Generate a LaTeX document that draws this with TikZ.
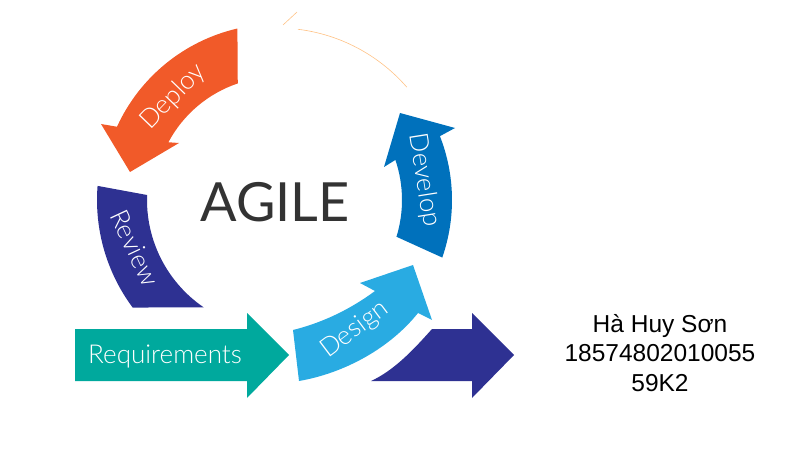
\documentclass[tikz,border=0pt]{standalone}
\usepackage{fontspec}
\setmainfont{Lato}
\newfontfamily\phasefont{Lato Light}
\newfontfamily\namefont{Liberation Sans}
\usetikzlibrary{calc}
\definecolor{deployorange}{HTML}{F15A29}
\definecolor{reviewblue}{HTML}{2E3192}
\definecolor{developblue}{HTML}{0071BC}
\definecolor{designblue}{HTML}{29ABE2}
\definecolor{reqteal}{HTML}{00A99D}
\definecolor{agilegray}{HTML}{333333}
\tikzstyle{phasetext} = [text=white, font=\phasefont\fontsize{26}{30}\selectfont, inner sep=0pt]
\tikzstyle{ghost} = [draw=orange!80, line width=0.6pt, opacity=0.6]
\newcommand{\phase}[3]{
node (#1) [phasetext, rotate=#2] {#3}}

\begin{document}
\begin{tikzpicture}[x=1pt, y=1pt]
	\useasboundingbox (0,0) rectangle (801,448);
	\coordinate (c) at (277,248);

	% Draw the arrows round the circle
	\fill[deployorange] ($(c)+(103:176)$) arc[start angle=103, end angle=155.4, radius=176]
		-- (101,324) -- (130,276) -- (179,305) -- ($(c)+(152:123)$)
		arc[start angle=152, end angle=108.6, radius=123] -- cycle;
	\fill[reviewblue] ($(c)+(175.5:180)$) arc[start angle=175.5, end angle=216.7, radius=180]
		-- ($(c)+(235.6:130)$) arc[start angle=235.6, end angle=177.8, radius=130] -- cycle;
	\fill[developblue] ($(c)+(-19.2:175)$) arc[start angle=-19.2, end angle=21.4, radius=175]
		-- (455,320) -- (400,335) -- (384,281) -- ($(c)+(18.7:125)$)
		arc[start angle=18.7, end angle=-17.1, radius=125] -- cycle;
	\fill[designblue] (293,118) .. controls (325,126) and (352,140) .. (375,157)
		-- (360,165) -- (413,183) -- (432,128) -- (418,135)
		.. controls (390,100) and (345,75) .. (299,67) -- cycle;

	% Draw the straight arrows
	\fill[reqteal] (75,67) -- (247,67) -- (247,50) -- (289,93) -- (247,135) -- (247,119) -- (75,119) -- cycle;
	\fill[reviewblue] (371,67) .. controls (395,78) and (415,100) .. (432,119)
		-- (472,119) -- (472,135) -- (514,93) -- (472,50) -- (472,67) -- cycle;

	% Faint traces at the top
	\draw[ghost] ($(c)+(83:172)$) arc[start angle=83, end angle=41, radius=172];
	\draw[ghost] (283,423) -- (297,436);

	% Draw the labels
	\path (173,351) \phase{deploy}{46}{Deploy};
	\path (135,200) \phase{review}{-65}{Review};
	\path (424,268) \phase{develop}{-81}{Develop};
	\path (355,118) \phase{design}{37}{Design};
	\path (165,91) \phase{requirements}{0}{Requirements};
	\node (agile) [font=\fontsize{54}{60}\selectfont, text=agilegray] at (275,246) {AGILE};
	\node (author) [align=center, font=\namefont\fontsize{24.5}{29.5}\selectfont] at (660,95)
		{Hà Huy Sơn\\18574802010055\\59K2};

\end{tikzpicture}
\end{document}
